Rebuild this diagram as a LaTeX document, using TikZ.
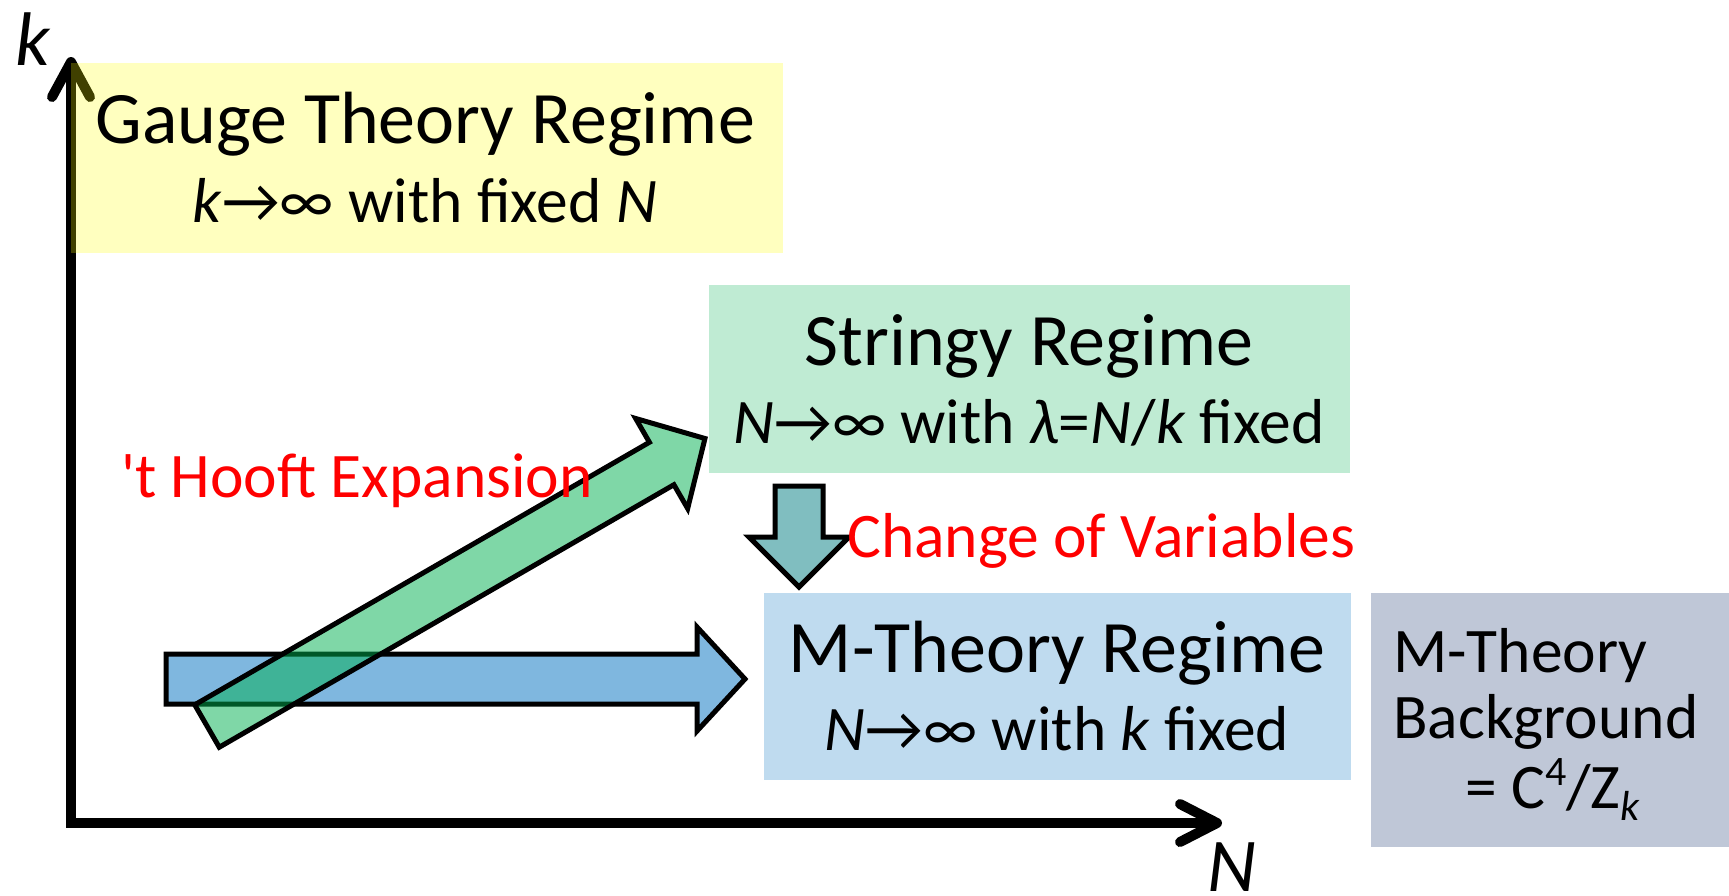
\documentclass[tikz,border=0pt]{standalone}
\usepackage{fontspec}
\setmainfont{Carlito}
\definecolor{gYellow}{rgb}{1,1,0}
\definecolor{gGreen}{RGB}{0,176,80}
\definecolor{gBlue}{RGB}{0,112,192}
\definecolor{gNavy}{RGB}{0,32,96}
\definecolor{gTeal}{RGB}{128,190,192}
\newcommand{\supfour}{\raisebox{0.36em}{\fontsize{42}{44}\selectfont 4}}
\newcommand{\subk}{\raisebox{-0.2em}{\fontsize{42}{44}\selectfont\itshape k}}
\begin{document}
\begin{tikzpicture}[x=1pt,y=-1pt,
  regbox/.style={rectangle, draw=none, inner sep=0pt, fill opacity=0.25},
  bigtxt/.style={font=\fontsize{74}{80}\selectfont, anchor=base, inner sep=0pt},
  midtxt/.style={font=\fontsize{63.5}{68}\selectfont, anchor=base, inner sep=0pt},
  graytxt/.style={midtxt, anchor=base west},
  redtxt/.style={midtxt, text=red, anchor=base west},
  axislbl/.style={font=\fontsize{76}{80}\selectfont\itshape, anchor=base west, inner sep=0pt},
  axisline/.style={line width=10pt},
  fatarrow/.style={draw=black, line width=5pt, line join=miter, fill opacity=0.5}]
\useasboundingbox (0,0) rectangle (1729,895);

% axes
\coordinate (O) at (71,823);
\coordinate (ytop) at (71,68);
\coordinate (xend) at (1210,823);
\coordinate (ytip) at (71,62);
\coordinate (xtip) at (1217,823);
\draw[axisline, line join=miter] (ytop) -- (O) -- (xend);
\draw[axisline, line cap=round, line join=round] (52,97) -- (ytip) -- (90,97);
\draw[axisline, line cap=round, line join=round] (1180,804) -- (xtip) -- (1180,842);
\node[axislbl] (klbl) at (15,65) {k};
\node[axislbl] (Nlbl) at (1207,891) {N};

% regime boxes
\node[regbox, fill=gYellow, minimum width=712pt, minimum height=190pt] (gauge) at (427,158) {};
\node[regbox, fill=gGreen, minimum width=641pt, minimum height=188pt] (stringy) at (1029.5,379) {};
\node[regbox, fill=gBlue, minimum width=587pt, minimum height=187pt] (mth) at (1057.5,686.5) {};
\node[regbox, fill=gNavy, minimum width=358pt, minimum height=254pt] (bg) at (1550,720) {};

% fat arrows
\draw[fatarrow, fill=gBlue] (166,654) -- (697,654) -- (697,627) -- (745,679) -- (697,731) -- (697,704) -- (166,704) -- cycle;
\begin{scope}[shift={(207,726)}, rotate=30]
\draw[fatarrow, fill=gGreen] (0,-24.5) -- (525,-24.5) -- (525,-52) -- (575,0) -- (525,52) -- (525,24.5) -- (0,24.5) -- cycle;
\end{scope}
\draw[draw=black, line width=5pt, line join=miter, fill=gTeal] (775,486) -- (823,486) -- (823,537) -- (849,537) -- (799,587) -- (749,537) -- (775,537) -- cycle;

% texts
\node[bigtxt] (g1) at (425,143) {Gauge Theory Regime};
\node[midtxt] (g2) at (425,222) {\textit{k}→∞ with fixed \textit{N}};
\node[bigtxt] (s1) at (1029,365) {Stringy Regime};
\node[midtxt] (s2) at (1029,443) {\textit{N}→∞ with \textit{λ}=\textit{N}/\textit{k} fixed};
\node[bigtxt] (m1) at (1057,672) {M-Theory Regime};
\node[midtxt] (m2) at (1057,750) {\textit{N}→∞ with \textit{k} fixed};
\node[graytxt] (b1) at (1393,672) {M-Theory};
\node[graytxt] (b2) at (1393,738) {Background};
\node[graytxt] (b3) at (1465,808) {= C\supfour/Z\subk};
\node[redtxt] (th) at (121,497) {\textquotesingle t Hooft Expansion};
\node[redtxt] (cv) at (847,557) {Change of Variables};
\end{tikzpicture}
\end{document}
